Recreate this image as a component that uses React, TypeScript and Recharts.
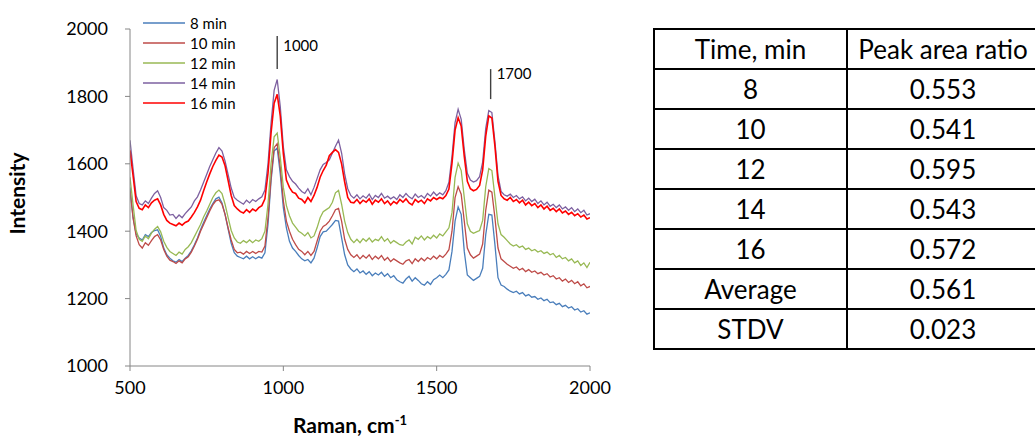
import React from 'react';
import { LineChart, Line, XAxis, YAxis, Legend, ReferenceLine } from 'recharts';

const wavenumbers = [
  500, 510, 520, 530, 540, 550, 560, 570, 580, 590, 600, 610, 620, 630, 640, 650, 660, 670, 680, 690,
  700, 710, 720, 730, 740, 750, 760, 770, 780, 790, 800, 810, 820, 830, 840, 850, 860, 870, 880, 890,
  900, 910, 920, 930, 940, 950, 960, 970, 980, 990, 1000, 1010, 1020, 1030, 1040, 1050, 1060, 1070, 1080, 1090,
  1100, 1110, 1120, 1130, 1140, 1150, 1160, 1170, 1180, 1190, 1200, 1210, 1220, 1230, 1240, 1250, 1260, 1270, 1280, 1290,
  1300, 1310, 1320, 1330, 1340, 1350, 1360, 1370, 1380, 1390, 1400, 1410, 1420, 1430, 1440, 1450, 1460, 1470, 1480, 1490,
  1500, 1510, 1520, 1530, 1540, 1550, 1560, 1570, 1580, 1590, 1600, 1610, 1620, 1630, 1640, 1650, 1660, 1670, 1680, 1690,
  1700, 1710, 1720, 1730, 1740, 1750, 1760, 1770, 1780, 1790, 1800, 1810, 1820, 1830, 1840, 1850, 1860, 1870, 1880, 1890,
  1900, 1910, 1920, 1930, 1940, 1950, 1960, 1970, 1980, 1990, 2000,
];

const min8 = [
  1530, 1440, 1392, 1380, 1374, 1390, 1384, 1396, 1402, 1404, 1384, 1350, 1330, 1320, 1312, 1308, 1316, 1310, 1320, 1328,
  1342, 1360, 1380, 1404, 1426, 1446, 1466, 1482, 1496, 1501, 1484, 1450, 1406, 1364, 1336, 1326, 1322, 1318, 1326, 1318,
  1324, 1318, 1324, 1320, 1336, 1420, 1550, 1638, 1647, 1570, 1470, 1410, 1370, 1350, 1340, 1328, 1318, 1312, 1316, 1306,
  1320, 1350, 1384, 1398, 1400, 1410, 1420, 1432, 1430, 1380, 1330, 1300, 1288, 1280, 1288, 1276, 1282, 1272, 1280, 1268,
  1276, 1270, 1278, 1266, 1274, 1262, 1268, 1256, 1250, 1246, 1258, 1266, 1252, 1262, 1254, 1244, 1240, 1250, 1242, 1256,
  1262, 1270, 1262, 1272, 1285, 1340, 1430, 1472, 1450, 1340, 1270, 1262, 1254, 1260, 1266, 1290, 1390, 1450, 1448, 1360,
  1262, 1240, 1236, 1228, 1222, 1218, 1222, 1214, 1218, 1208, 1212, 1204, 1206, 1198, 1202, 1194, 1198, 1188, 1190, 1182,
  1186, 1176, 1180, 1172, 1176, 1166, 1170, 1160, 1164, 1154, 1158,
];

const min10 = [
  1520, 1440, 1386, 1360, 1350, 1366, 1358, 1372, 1384, 1390, 1374, 1346, 1326, 1314, 1310, 1304, 1312, 1306, 1318, 1324,
  1338, 1356, 1376, 1400, 1420, 1440, 1460, 1478, 1490, 1493, 1480, 1450, 1410, 1374, 1346, 1336, 1338, 1332, 1340, 1334,
  1340, 1334, 1340, 1338, 1356, 1440, 1560, 1648, 1660, 1590, 1490, 1430, 1400, 1376, 1360, 1346, 1340, 1330, 1340, 1328,
  1340, 1370, 1400, 1414, 1420, 1430, 1446, 1464, 1468, 1430, 1376, 1346, 1330, 1322, 1330, 1318, 1328, 1320, 1330, 1316,
  1326, 1318, 1328, 1314, 1322, 1310, 1318, 1312, 1306, 1302, 1312, 1316, 1304, 1318, 1310, 1320, 1312, 1322, 1316, 1326,
  1318, 1328, 1322, 1332, 1345, 1400, 1500, 1532, 1510, 1430, 1350, 1330, 1320, 1326, 1332, 1362, 1462, 1522, 1516, 1440,
  1350, 1318, 1310, 1302, 1296, 1290, 1294, 1285, 1290, 1280, 1286, 1278, 1282, 1274, 1278, 1270, 1274, 1264, 1268, 1258,
  1262, 1252, 1258, 1248, 1254, 1244, 1250, 1238, 1244, 1232, 1236,
];

const min12 = [
  1560, 1478, 1402, 1376, 1370, 1386, 1378, 1394, 1406, 1414, 1398, 1370, 1352, 1340, 1334, 1328, 1338, 1332, 1346, 1354,
  1366, 1384, 1402, 1420, 1442, 1460, 1480, 1500, 1514, 1522, 1512, 1480, 1440, 1402, 1380, 1368, 1364, 1372, 1366, 1374,
  1366, 1374, 1370, 1378, 1400, 1480, 1600, 1680, 1691, 1620, 1530, 1476, 1446, 1424, 1412, 1400, 1394, 1386, 1396, 1380,
  1386, 1410, 1440, 1458, 1464, 1470, 1486, 1514, 1521, 1480, 1430, 1396, 1376, 1366, 1376, 1366, 1378, 1370, 1380, 1368,
  1376, 1372, 1384, 1370, 1378, 1364, 1372, 1366, 1360, 1358, 1368, 1374, 1362, 1382, 1376, 1386, 1374, 1384, 1378, 1388,
  1380, 1392, 1386, 1398, 1410, 1455, 1560, 1602, 1580, 1500, 1422, 1400, 1394, 1398, 1402, 1432, 1532, 1586, 1580, 1502,
  1422, 1390, 1382, 1372, 1362, 1356, 1360, 1352, 1356, 1346, 1350, 1342, 1346, 1338, 1342, 1334, 1338, 1330, 1334, 1322,
  1328, 1318, 1322, 1312, 1318, 1306, 1312, 1298, 1306, 1292, 1308,
];

const min14 = [
  1670, 1585, 1505, 1482, 1478, 1490, 1482, 1498, 1512, 1520, 1500, 1470, 1462, 1448, 1450, 1438, 1448, 1440, 1452, 1462,
  1472, 1490, 1502, 1522, 1545, 1568, 1592, 1612, 1632, 1648, 1638, 1608, 1568, 1528, 1500, 1492, 1486, 1480, 1492, 1484,
  1494, 1488, 1496, 1502, 1522, 1600, 1720, 1818, 1850, 1770, 1650, 1582, 1562, 1548, 1540, 1528, 1518, 1512, 1526, 1508,
  1530, 1556, 1582, 1598, 1604, 1612, 1632, 1652, 1670, 1632, 1570, 1526, 1506, 1498, 1508, 1496, 1505, 1498, 1510, 1494,
  1506, 1500, 1512, 1498, 1504, 1496, 1502, 1494, 1508, 1500, 1512, 1502, 1496, 1510, 1500, 1506, 1498, 1512, 1504, 1516,
  1506, 1514, 1508, 1520, 1545, 1622, 1722, 1762, 1732, 1642, 1572, 1552, 1546, 1550, 1562, 1605, 1705, 1758, 1752, 1665,
  1565, 1518, 1508, 1504, 1510, 1500, 1506, 1496, 1502, 1490, 1498, 1488, 1495, 1482, 1490, 1478, 1486, 1474, 1480, 1470,
  1478, 1466, 1472, 1462, 1470, 1458, 1466, 1455, 1462, 1448, 1452,
];

const min16 = [
  1640, 1565, 1488, 1468, 1464, 1478, 1470, 1484, 1492, 1496, 1478, 1450, 1432, 1424, 1420, 1416, 1424, 1418, 1426, 1430,
  1442, 1456, 1472, 1492, 1520, 1546, 1570, 1592, 1610, 1626, 1620, 1594, 1550, 1506, 1476, 1466, 1458, 1454, 1464, 1456,
  1466, 1460, 1470, 1476, 1496, 1572, 1692, 1780, 1806, 1742, 1630, 1552, 1530, 1516, 1512, 1498, 1494, 1484, 1500, 1488,
  1506, 1530, 1560, 1580, 1596, 1624, 1634, 1642, 1634, 1600, 1546, 1500, 1486, 1484, 1494, 1482, 1492, 1486, 1496, 1480,
  1492, 1486, 1496, 1482, 1490, 1478, 1488, 1482, 1494, 1486, 1496, 1484, 1478, 1494, 1486, 1492, 1482, 1496, 1490, 1500,
  1494, 1500, 1496, 1506, 1525, 1602, 1700, 1737, 1712, 1622, 1548, 1526, 1520, 1524, 1536, 1582, 1682, 1742, 1736, 1652,
  1548, 1506, 1496, 1492, 1500, 1488, 1494, 1484, 1492, 1478, 1486, 1476, 1482, 1470, 1478, 1466, 1474, 1462, 1468, 1458,
  1466, 1454, 1460, 1450, 1456, 1446, 1452, 1442, 1448, 1436, 1440,
];

const seriesNames = ['8 min', '10 min', '12 min', '14 min', '16 min'];
const seriesColors = ['#4A7EBB', '#BE4B48', '#98B954', '#7D60A0', '#FF0000'];
const seriesWidths = [1.3, 1.3, 1.3, 1.3, 1.6];
const seriesValues = [min8, min10, min12, min14, min16];

const xTicks = [500, 1000, 1500, 2000];
const yTicks = [1000, 1200, 1400, 1600, 1800, 2000];

const annotationLabels = ['1000', '1700'];
const annotationX = [980, 1676];
const annotationTop = [1979, 1881];
const annotationBottom = [1881, 1792];

const tableHeader = ['Time, min', 'Peak area ratio'];
const tableTimes = ['8', '10', '12', '14', '16', 'Average', 'STDV'];
const tableRatios = ['0.553', '0.541', '0.595', '0.543', '0.572', '0.561', '0.023'];

const FONT = 'Lato, "Open Sans", sans-serif';

const data = wavenumbers.map((x, i) => {
  const row: Record<string, number> = { x };
  seriesValues.forEach((vals, k) => {
    row['s' + k] = vals[i];
  });
  return row;
});

const AnnLabel = (props: any) => {
  const vb = props.viewBox || {};
  return (
    <text x={vb.x + 6} y={vb.y + props.dy} fontSize={15} fontFamily={FONT} fill="#000">
      {props.text}
    </text>
  );
};

const XLabel = (props: any) => {
  const vb = props.viewBox || {};
  return (
    <text
      x={vb.x + vb.width / 2 - 10}
      y={433}
      textAnchor="middle"
      fontSize={21}
      fontWeight="bold"
      fontFamily={FONT}
      fill="#000"
    >
      Raman, cm
      <tspan dy={-8} fontSize={13}>-1</tspan>
    </text>
  );
};

const YLabel = (props: any) => {
  const vb = props.viewBox || {};
  const cy = vb.y + vb.height / 2 - 4;
  return (
    <text
      x={25}
      y={cy}
      transform={`rotate(-90, 25, ${cy})`}
      textAnchor="middle"
      fontSize={21}
      fontWeight="bold"
      fontFamily={FONT}
      fill="#000"
    >
      Intensity
    </text>
  );
};

const LegendContent = () => (
  <div style={{ fontFamily: FONT, fontSize: 15, color: '#000' }}>
    {seriesNames.map((name, i) => (
      <div key={name} style={{ display: 'flex', alignItems: 'center', height: 20 }}>
        <svg width={42} height={4} style={{ display: 'block' }}>
          <line x1={0} y1={2} x2={42} y2={2} stroke={seriesColors[i]} strokeWidth={1.5} />
        </svg>
        <span style={{ marginLeft: 5, lineHeight: '20px' }}>{name}</span>
      </div>
    ))}
  </div>
);

const cellStyle: React.CSSProperties = {
  border: '2px solid #000',
  padding: 0,
  textAlign: 'center',
  verticalAlign: 'middle',
  whiteSpace: 'nowrap',
};

export default function App() {
  return (
    <div
      style={{
        position: 'absolute',
        left: 0,
        top: 0,
        width: 1035,
        height: 438,
        overflow: 'hidden',
        background: '#fff',
      }}
    >
      <div style={{ position: 'absolute', left: 0, top: 0 }}>
        <LineChart width={620} height={438} data={data} margin={{ top: 29, right: 30, bottom: 0, left: 0 }}>
          <XAxis
            type="number"
            dataKey="x"
            domain={[500, 2000]}
            ticks={xTicks}
            height={72}
            tickSize={5}
            tickMargin={10}
            stroke="#868686"
            tick={{ fill: '#000', fontSize: 18, fontFamily: FONT }}
            label={<XLabel />}
            allowDataOverflow
          />
          <YAxis
            type="number"
            domain={[1000, 2000]}
            ticks={yTicks}
            width={130}
            tickSize={5}
            tickMargin={17}
            stroke="#868686"
            tick={{ fill: '#000', fontSize: 18, fontFamily: FONT }}
            label={<YLabel />}
            allowDataOverflow
          />
          {seriesNames.map((name, k) => (
            <Line
              key={name}
              type="linear"
              dataKey={'s' + k}
              name={name}
              stroke={seriesColors[k]}
              strokeWidth={seriesWidths[k]}
              dot={false}
              activeDot={false}
              isAnimationActive={false}
            />
          ))}
          {annotationLabels.map((lab, i) => (
            <ReferenceLine
              key={lab}
              segment={[
                { x: annotationX[i], y: annotationTop[i] },
                { x: annotationX[i], y: annotationBottom[i] },
              ]}
              stroke="#404040"
              strokeWidth={1.4}
              label={<AnnLabel text={lab} dy={i === 0 ? 15 : 10} />}
            />
          ))}
          <Legend
            layout="vertical"
            align="center"
            verticalAlign="middle"
            content={<LegendContent />}
            wrapperStyle={{ left: 143, top: 13, width: 120, height: 100 }}
          />
        </LineChart>
      </div>
      <table
        style={{
          position: 'absolute',
          left: 653,
          top: 28,
          borderCollapse: 'collapse',
          tableLayout: 'fixed',
          width: 385,
          fontFamily: FONT,
          fontSize: 26,
          color: '#000',
        }}
      >
        <colgroup>
          <col style={{ width: 193 }} />
          <col style={{ width: 192 }} />
        </colgroup>
        <tbody>
          <tr style={{ height: 40 }}>
            <td style={cellStyle}>{tableHeader[0]}</td>
            <td style={cellStyle}>{tableHeader[1]}</td>
          </tr>
          {tableTimes.map((t, i) => (
            <tr key={t} style={{ height: 40 }}>
              <td style={cellStyle}>{t}</td>
              <td style={cellStyle}>{tableRatios[i]}</td>
            </tr>
          ))}
        </tbody>
      </table>
    </div>
  );
}
